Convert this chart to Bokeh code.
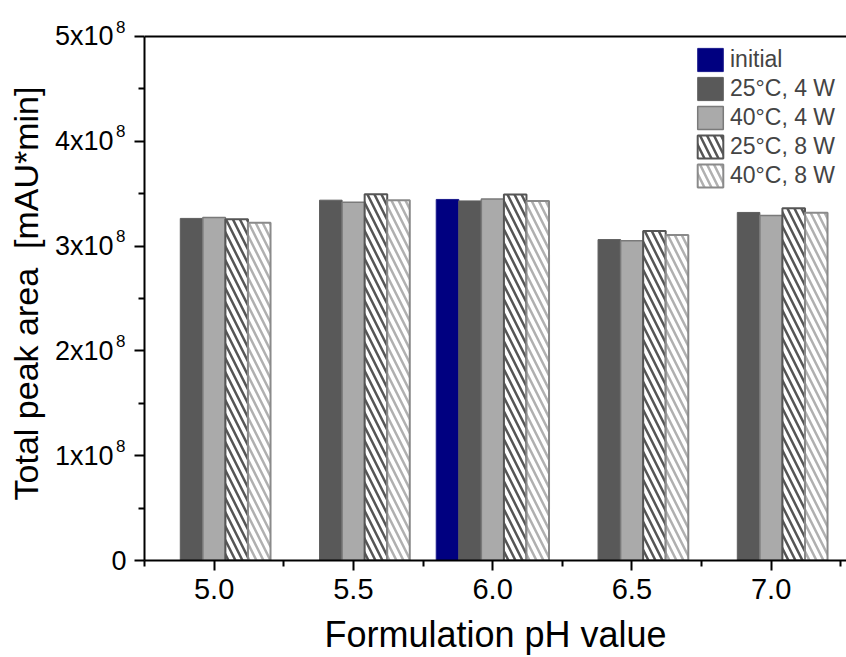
from bokeh.plotting import figure
from bokeh.models import (ColumnDataSource, FixedTicker, LinearAxis, Legend,
                          LegendItem, Range1d, PrintfTickFormatter, Span)
from bokeh.transform import dodge
from bokeh.embed import file_html
from bokeh.resources import INLINE

# Formulation pH values (group positions on the x axis)
ph = [5.0, 5.5, 6.0, 6.5, 7.0]

# Total peak area [mAU*min]
initial_ph = [6.0]
initial_area = [3.445e8]
area_25c_4w = [3.264e8, 3.438e8, 3.431e8, 3.062e8, 3.321e8]
area_40c_4w = [3.273e8, 3.419e8, 3.450e8, 3.050e8, 3.292e8]
area_25c_8w = [3.257e8, 3.495e8, 3.492e8, 3.143e8, 3.362e8]
area_40c_8w = [3.222e8, 3.438e8, 3.431e8, 3.105e8, 3.317e8]

series_labels = ["initial", "25°C, 4 W", "40°C, 4 W", "25°C, 8 W", "40°C, 8 W"]

y_ticks = [0, 1e8, 2e8, 3e8, 4e8, 5e8]
y_tick_base = ["0", "1x10", "2x10", "3x10", "4x10", "5x10"]
y_tick_exp = ["", "8", "8", "8", "8", "8"]
y_minor = [0.5e8, 1.5e8, 2.5e8, 3.5e8, 4.5e8]
x_ticks = [5.0, 5.5, 6.0, 6.5, 7.0]
x_minor = [4.75, 5.25, 5.75, 6.25, 6.75, 7.25]

FONT = "Liberation Sans"
NBSP = "\u00a0"
THIN = "\u2009"
X_START, X_END = 4.75, 7.2706
Y_TOP = 5e8                # upper end of the value axis (top frame line)
EXP_RAISE = 0.0952e8       # exponents sit this far above their tick
BAR_W = 0.081

# the plotting range reaches a little above Y_TOP so the top exponent fits
p = figure(width=846, height=657, output_backend="svg", toolbar_location=None,
           x_range=Range1d(X_START, X_END), y_range=Range1d(0, Y_TOP + EXP_RAISE),
           min_border_left=144, min_border_right=0, min_border_top=26,
           min_border_bottom=96)
p.extra_y_ranges = {"exp": Range1d(-EXP_RAISE, Y_TOP)}
p.background_fill_color = "white"
p.border_fill_color = "white"
p.outline_line_color = None
p.xgrid.visible = False
p.ygrid.visible = False

src = ColumnDataSource(dict(ph=ph, a1=area_25c_4w, a2=area_40c_4w,
                            a3=area_25c_8w, a4=area_40c_8w))
src0 = ColumnDataSource(dict(ph=initial_ph, a0=initial_area))

r0 = p.vbar(x=dodge("ph", -2 * BAR_W), top="a0", width=BAR_W, source=src0,
            fill_color="#000080", line_color="#1a1a8c", line_width=1)
r1 = p.vbar(x=dodge("ph", -1 * BAR_W), top="a1", width=BAR_W, source=src,
            fill_color="#595959", line_color="#5e5e5e", line_width=1)
r2 = p.vbar(x=dodge("ph", 0), top="a2", width=BAR_W, source=src,
            fill_color="#aaaaaa", line_color="#7a7a7a", line_width=1.5)
r3 = p.vbar(x=dodge("ph", 1 * BAR_W), top="a3", width=BAR_W, source=src,
            fill_color="white", line_color="#555555", line_width=2,
            hatch_pattern="left_diagonal_line", hatch_color="#555555",
            hatch_scale=14, hatch_weight=2.5)
r4 = p.vbar(x=dodge("ph", 2 * BAR_W), top="a4", width=BAR_W, source=src,
            fill_color="white", line_color="#8a8a8a", line_width=2,
            hatch_pattern="left_diagonal_line", hatch_color="#b0b0b0",
            hatch_scale=14, hatch_weight=2.5)

# top frame line
p.add_layout(Span(location=Y_TOP, dimension="width", line_color="black",
                  line_width=2))

# x axis
xa = p.xaxis[0]
xa.ticker = FixedTicker(ticks=x_ticks, minor_ticks=x_minor)
xa.formatter = PrintfTickFormatter(format="%.1f")
xa.axis_label = "Formulation pH value"
xa.major_label_text_font_size = "29px"
xa.major_label_standoff = 8
xa.axis_label_standoff = 12
xa.axis_label_text_font_size = "36px"

# inner y axis: axis line, ticks and the mantissas of the tick labels
ya = p.yaxis[0]
ya.bounds = (0, Y_TOP)
ya.ticker = FixedTicker(ticks=y_ticks, minor_ticks=y_minor)
ya.major_label_overrides = {t: b + (NBSP + THIN if e else "")
                            for t, b, e in zip(y_ticks, y_tick_base, y_tick_exp)}
ya.major_label_text_font_size = "27px"
ya.major_label_standoff = 8

# outer y axis on a raised copy of the range: exponents and the axis title
exp_ticks = [t for t, e in zip(y_ticks, y_tick_exp) if e]
ye = LinearAxis(y_range_name="exp", ticker=FixedTicker(ticks=exp_ticks, minor_ticks=[]))
ye.major_label_overrides = {t: e for t, e in zip(y_ticks, y_tick_exp) if e}
ye.axis_line_color = None
ye.major_tick_line_color = None
ye.minor_tick_line_color = None
ye.major_tick_out = 0
ye.major_tick_in = 0
ye.minor_tick_out = 0
ye.minor_tick_in = 0
ye.major_label_text_font_size = "17px"
ye.major_label_standoff = -73
ye.axis_label = "Total peak area " + NBSP + "[mAU*min]"
ye.axis_label_text_font_size = "34px"
ye.axis_label_standoff = 68
p.add_layout(ye, "left")

for ax in (xa, ya):
    ax.axis_line_width = 2
    ax.axis_line_color = "black"
    ax.major_tick_line_width = 2
    ax.minor_tick_line_width = 2
    ax.major_tick_line_color = "black"
    ax.minor_tick_line_color = "black"
    ax.major_tick_out = 10
    ax.major_tick_in = 0
    ax.minor_tick_out = 6
    ax.minor_tick_in = 0
for ax in (xa, ya, ye):
    ax.axis_label_text_font = FONT
    ax.axis_label_text_font_style = "normal"
    ax.axis_label_text_color = "black"
    ax.major_label_text_font = FONT
    ax.major_label_text_color = "black"

# legend anchored by its lower-left corner, in pixels from the frame's lower-left
legend = Legend(items=[LegendItem(label=lab, renderers=[r])
                       for lab, r in zip(series_labels, [r0, r1, r2, r3, r4])],
                location=(550, 370), margin=0, padding=0, spacing=0,
                glyph_width=32, glyph_height=29, label_height=29,
                label_width=96, label_standoff=4, label_text_font=FONT,
                label_text_font_size="23px", border_line_color=None,
                background_fill_alpha=0)
p.add_layout(legend)

open("out.html", "w").write(file_html(p, INLINE))
